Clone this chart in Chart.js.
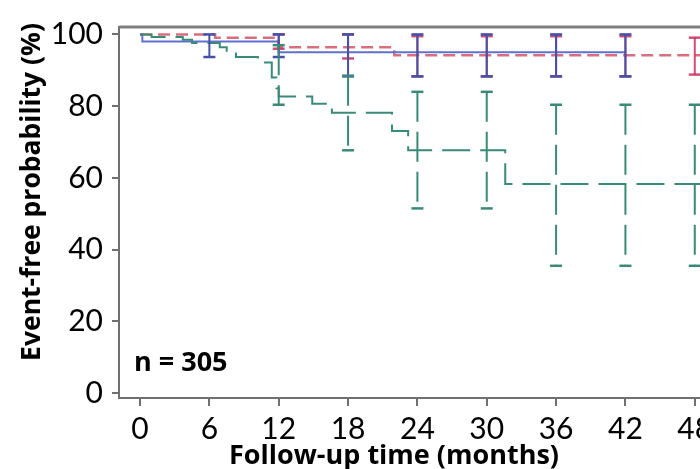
<!DOCTYPE html>
<html>
<head>
<meta charset="utf-8">
<script src="https://cdn.jsdelivr.net/npm/chart.js@4/dist/chart.umd.min.js"></script>
<style>
  html, body { margin: 0; padding: 0; background: #fff; overflow: hidden; }
  #wrap { width: 700px; height: 469px; overflow: hidden; }
</style>
</head>
<body>
<div id="wrap"><canvas id="kmChart" width="750" height="469"></canvas></div>
<script>
// axis ticks
const xTicks = [0, 6, 12, 18, 24, 30, 36, 42, 48];
const yTicks = [0, 20, 40, 60, 80, 100];

// Kaplan-Meier curves (month, event-free %)
const blueMonths = [0, 0.2, 12, 42];
const blueSurv = [100, 98, 95, 95];

const redMonths = [0, 6.5, 12, 22, 50];
const redSurv = [100, 99.1, 96.4, 94.2, 94.2];

const greenMonths = [0, 1, 3.7, 4.5, 6.9, 7.5, 8.3, 10.2, 11.4, 11.8, 12, 14.9, 16.6, 21.8, 23.2, 31.6, 50];
const greenSurv = [100, 99.3, 98.5, 97.6, 96.4, 95, 93.7, 92.2, 88, 85, 82.7, 80.7, 78.2, 73.1, 67.7, 58.3, 58.3];

// confidence interval bars
const blueBarMonths = [6, 12, 18, 24, 30, 36, 42];
const blueUpper = [100, 100, 100, 100, 100, 100, 100];
const blueLower = [93.7, 93.7, 88.3, 88.3, 88.3, 88.3, 88.3];

const redBarMonths = [12, 18, 24, 30, 36, 42, 48];
const redUpper = [100, 100, 99.5, 99.5, 99.5, 99.5, 99.1];
const redLower = [96, 93.3, 88.3, 88.3, 88.3, 88.3, 88.8];

const greenBarMonths = [12, 18, 24, 30, 36, 42, 48];
const greenUpper = [97, 88.5, 84, 84, 80.4, 80.4, 80.4];
const greenLower = [80.4, 67.7, 51.5, 51.5, 35.5, 35.5, 35.5];

const nLabel = 'n = 305';
const xTitle = 'Follow-up time (months)';
const yTitle = 'Event-free probability (%)';

function curve(months, surv) {
  return months.map(function(m, i) { return { x: m, y: surv[i] }; });
}

function bars(months, upper, lower) {
  var pts = [];
  months.forEach(function(m, i) {
    pts.push({ x: m, y: upper[i] });
    pts.push({ x: m, y: lower[i] });
    pts.push({ x: m, y: null });
  });
  return pts;
}

function barSet(months, upper, lower, color, dash) {
  return {
    data: bars(months, upper, lower),
    borderColor: color,
    borderWidth: 2,
    borderDash: dash,
    pointStyle: 'line',
    pointRadius: 6,
    pointBorderWidth: 2.5,
    pointBorderColor: color,
    spanGaps: false
  };
}

// frame line on top, axis titles and n label
const framePlugin = {
  id: 'frame',
  afterDraw: function(chart) {
    var ctx = chart.ctx, a = chart.chartArea;
    ctx.save();
    ctx.strokeStyle = '#808080';
    ctx.lineWidth = 3;
    ctx.beginPath();
    ctx.moveTo(a.left, a.top);
    ctx.lineTo(a.right, a.top);
    ctx.lineTo(a.right, a.bottom);
    ctx.stroke();

    ctx.fillStyle = '#000';
    ctx.font = 'bold 27px "Open Sans"';
    ctx.textBaseline = 'alphabetic';
    ctx.textAlign = 'left';
    ctx.fillText(nLabel, 134, 371);

    ctx.textAlign = 'center';
    ctx.fillText(xTitle, 394, 464);

    ctx.font = 'bold 26.5px "Open Sans"';
    ctx.translate(40, 192);
    ctx.rotate(-Math.PI / 2);
    ctx.fillText(yTitle, 0, 0);
    ctx.restore();
  }
};

var ctx = document.getElementById('kmChart').getContext('2d');
new Chart(ctx, {
  type: 'line',
  data: {
    datasets: [
      barSet(greenBarMonths, greenUpper, greenLower, '#3b8a78', [30, 10]),
      barSet(blueBarMonths, blueUpper, blueLower, '#4550a8', []),
      barSet(redBarMonths, redUpper, redLower, 'rgba(195, 35, 85, 0.8)', []),
      {
        data: curve(greenMonths, greenSurv),
        borderColor: '#3b8a78',
        borderWidth: 2,
        borderDash: [28, 10],
        stepped: true,
        pointRadius: 0
      },
      {
        data: curve(blueMonths, blueSurv),
        borderColor: '#6070cf',
        borderWidth: 2,
        stepped: true,
        pointRadius: 0
      },
      {
        data: curve(redMonths, redSurv),
        borderColor: '#d7707e',
        borderWidth: 2.5,
        borderDash: [12, 6],
        stepped: true,
        pointRadius: 0
      }
    ]
  },
  options: {
    responsive: false,
    animation: false,
    devicePixelRatio: 1,
    layout: { padding: { top: 14, right: 9, left: 0, bottom: 0 } },
    plugins: {
      legend: { display: false },
      tooltip: { enabled: false }
    },
    scales: {
      x: {
        type: 'linear',
        min: -1.82,
        max: 52,
        afterFit: function(scale) { scale.height = 71; },
        afterBuildTicks: function(scale) {
          scale.ticks = xTicks.map(function(v) { return { value: v }; });
        },
        grid: { drawOnChartArea: false, drawTicks: true, tickLength: 8, tickColor: '#707070', lineWidth: 2 },
        border: { display: true, color: '#707070', width: 2 },
        ticks: { color: '#000', font: { family: 'Lato', size: 30 }, padding: 5, maxRotation: 0 }
      },
      y: {
        min: -1.35,
        max: 102.07,
        afterFit: function(scale) { scale.width = 119; },
        afterBuildTicks: function(scale) {
          scale.ticks = yTicks.map(function(v) { return { value: v }; });
        },
        grid: { drawOnChartArea: false, drawTicks: true, tickLength: 7, tickColor: '#707070', lineWidth: 2 },
        border: { display: true, color: '#707070', width: 2 },
        ticks: { color: '#000', font: { family: 'Lato', size: 30 }, padding: 9 }
      }
    }
  },
  plugins: [framePlugin]
});
</script>
</body>
</html>
